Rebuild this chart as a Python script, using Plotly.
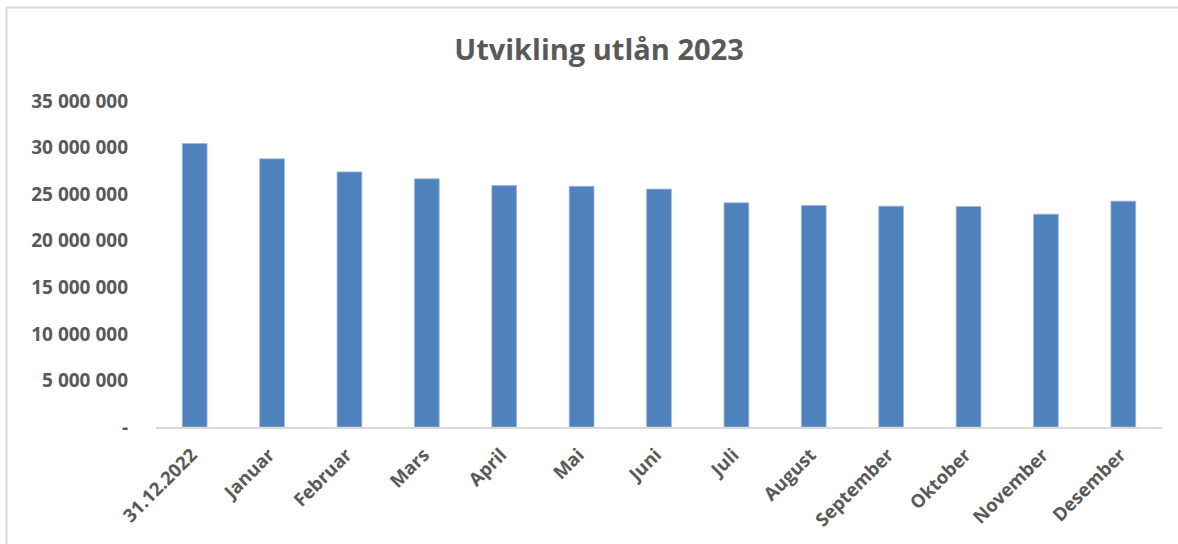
import plotly.graph_objects as go

categories = ["31.12.2022", "Januar", "Februar", "Mars", "April", "Mai", "Juni",
              "Juli", "August", "September", "Oktober", "November", "Desember"]
values = [30430000, 28790000, 27390000, 26640000, 25920000, 25840000, 25540000,
          24070000, 23780000, 23710000, 23670000, 22850000, 24250000]
y_tick_vals = [0, 5000000, 10000000, 15000000, 20000000, 25000000, 30000000, 35000000]
y_tick_text = ["-", "5 000 000", "10 000 000", "15 000 000", "20 000 000",
               "25 000 000", "30 000 000", "35 000 000"]
title_text = "Utvikling utlån 2023"

W, H = 1178, 544
L, R, T, B = 156, 1162, 101, 427.3
pw, ph = R - L, B - T

font_family = "Open Sans, Lato, sans-serif"
text_col = "#595959"

fig = go.Figure(go.Bar(
    x=categories, y=values,
    marker=dict(color="#4F81BD", line=dict(color="#9CB8DC", width=0.8)),
    hoverinfo="x+y",
))

def px(x):
    return (x - L) / pw

def py(y):
    return (B - y) / ph

fig.update_layout(
    width=W, height=H,
    margin=dict(l=L, r=W - R, t=T, b=H - B, pad=0),
    paper_bgcolor="white", plot_bgcolor="white",
    bargap=0.68,
    showlegend=False,
    title=dict(text="<b>" + title_text + "</b>", x=599 / W, xref="container", xanchor="center",
               y=1 - 50 / H, yref="container", yanchor="middle",
               font=dict(family=font_family, size=29, color=text_col)),
    xaxis=dict(
        type="category", showgrid=False, showline=True, linecolor="#D9D9D9", linewidth=1.5,
        ticks="", tickangle=-45, ticklabelshift=-3, ticklabelstandoff=8,
        tickfont=dict(family=font_family, size=18.5, color=text_col, weight="bold"),
    ),
    yaxis=dict(
        range=[0, 35000000], showgrid=False, zeroline=False, showline=False,
        tickvals=y_tick_vals, ticktext=y_tick_text, ticks="",
        ticklabelstandoff=27,
        tickfont=dict(family=font_family, size=19, color=text_col, weight="bold"),
    ),
    shapes=[
        dict(type="line", xref="paper", yref="paper", x0=px(6), x1=px(1178), y0=py(7.5), y1=py(7.5),
             line=dict(color="#D9D9D9", width=2)),
        dict(type="line", xref="paper", yref="paper", x0=px(6.5), x1=px(6.5), y0=py(7), y1=py(560),
             line=dict(color="#D9D9D9", width=2)),
    ],
)

fig.write_html("out.html", config={"displayModeBar": False},
               post_script="document.body.style.margin='0';document.body.style.overflow='hidden';")
